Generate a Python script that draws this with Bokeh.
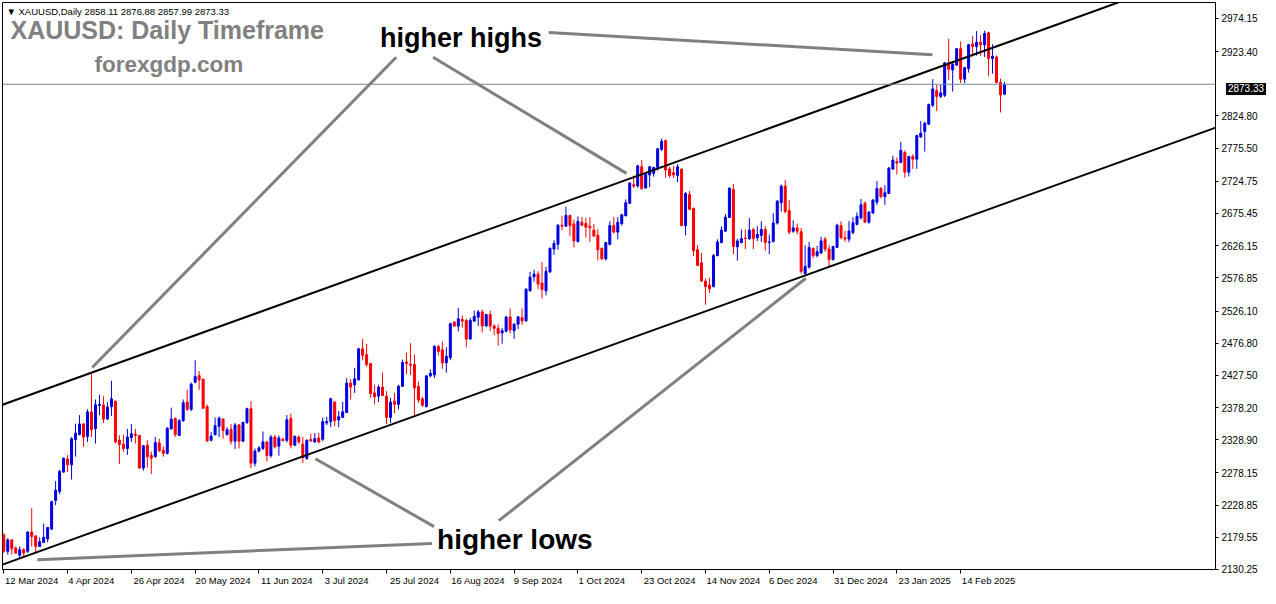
import numpy as np
from bokeh.plotting import figure
from bokeh.models import (Range1d, FixedTicker, NumeralTickFormatter, Span, Label,
                          ColumnDataSource, Div)
from bokeh.layouts import column
from bokeh.embed import file_html
from bokeh.resources import INLINE

# ---------------- data ----------------
opens = [2183.1, 2158.1, 2175.6, 2163.1, 2152.1, 2160.6, 2158.1, 2187.6, 2181.6, 2165.6,
         2171.6, 2177.1, 2192.1, 2236.0, 2249.6, 2279.6, 2299.6, 2290.6, 2329.0, 2337.1,
         2353.1, 2334.1, 2371.6, 2346.0, 2381.6, 2382.1, 2360.6, 2379.6, 2388.1, 2328.1,
         2322.1, 2315.6, 2332.1, 2337.6, 2335.6, 2285.6, 2320.6, 2304.6, 2303.1, 2324.1,
         2313.1, 2308.1, 2345.6, 2361.6, 2335.6, 2358.1, 2386.6, 2375.6, 2417.1, 2427.1,
         2421.6, 2379.6, 2328.1, 2336.6, 2349.6, 2360.6, 2336.6, 2344.6, 2326.6, 2351.6,
         2326.6, 2355.6, 2376.6, 2293.1, 2311.6, 2315.6, 2325.6, 2304.6, 2333.1, 2319.1,
         2329.6, 2328.1, 2361.6, 2320.6, 2333.1, 2322.0, 2300.6, 2329.1, 2325.6, 2331.6,
         2329.7, 2354.7, 2356.7, 2386.7, 2359.2, 2363.2, 2370.7, 2415.7, 2413.2, 2420.7,
         2468.2, 2459.2, 2445.7, 2400.7, 2395.7, 2409.7, 2395.7, 2363.2, 2388.2, 2383.2,
         2410.7, 2448.2, 2444.7, 2444.2, 2410.7, 2391.7, 2379.7, 2426.7, 2428.2, 2471.7,
         2466.7, 2446.7, 2454.7, 2509.2, 2503.0, 2513.2, 2511.7, 2483.2, 2510.7, 2516.7,
         2524.7, 2503.2, 2520.7, 2503.2, 2499.7, 2492.5, 2495.0, 2517.0, 2496.0, 2506.0,
         2516.0, 2511.0, 2557.0, 2578.5, 2582.5, 2569.0, 2557.0, 2586.0, 2621.0, 2628.5,
         2657.5, 2656.0, 2672.5, 2659.5, 2632.5, 2662.0, 2660.0, 2656.0, 2650.0, 2642.0,
         2622.0, 2606.0, 2628.0, 2657.0, 2647.0, 2660.0, 2672.0, 2691.0, 2719.5, 2717.5,
         2747.0, 2714.5, 2734.5, 2737.0, 2746.0, 2773.5, 2787.0, 2743.5, 2738.0, 2733.5,
         2743.4, 2656.9, 2704.4, 2683.4, 2619.9, 2599.9, 2571.9, 2565.9, 2563.4, 2610.9,
         2630.9, 2648.4, 2669.4, 2712.0, 2624.4, 2630.9, 2637.9, 2636.9, 2650.9, 2638.4,
         2641.9, 2650.9, 2630.9, 2633.0, 2660.9, 2691.9, 2717.4, 2680.0, 2648.4, 2653.4,
         2647.4, 2583.4, 2593.4, 2621.9, 2610.9, 2614.9, 2635.9, 2620.9, 2604.9, 2623.4,
         2656.9, 2638.4, 2636.2, 2646.2, 2658.7, 2668.7, 2691.2, 2662.2, 2676.2, 2692.7,
         2713.7, 2701.2, 2706.2, 2743.7, 2755.2, 2753.7, 2768.7, 2738.7, 2762.7, 2758.7,
         2792.7, 2801.2, 2812.2, 2841.2, 2863.7, 2854.7, 2856.5, 2906.2, 2895.2, 2902.7,
         2927.7, 2881.2, 2897.2, 2935.2, 2931.2, 2937.7, 2933.7, 2952.2, 2912.7, 2915.2,
         2876.2, 2858.11]
highs = [2185.6, 2178.1, 2176.6, 2165.6, 2165.6, 2163.1, 2188.6, 2224.1, 2183.1, 2179.6,
         2200.6, 2195.6, 2235.6, 2265.6, 2283.1, 2301.6, 2305.6, 2333.1, 2353.6, 2366.6,
         2354.6, 2375.6, 2429.6, 2390.6, 2398.1, 2395.6, 2386.6, 2419.1, 2389.1, 2335.6,
         2336.6, 2345.6, 2353.1, 2345.6, 2336.6, 2320.6, 2328.1, 2310.6, 2333.1, 2330.6,
         2319.1, 2348.1, 2378.1, 2363.1, 2360.6, 2390.6, 2405.6, 2416.6, 2450.6, 2434.1,
         2423.1, 2383.1, 2340.6, 2363.1, 2364.6, 2361.6, 2348.1, 2353.1, 2354.6, 2353.1,
         2356.6, 2378.1, 2388.1, 2315.6, 2319.1, 2341.6, 2326.6, 2336.6, 2336.6, 2335.6,
         2331.6, 2366.6, 2369.1, 2335.6, 2335.6, 2333.1, 2329.6, 2338.1, 2339.1, 2339.6,
         2363.2, 2364.2, 2393.2, 2388.2, 2373.2, 2386.7, 2423.2, 2421.7, 2439.2, 2469.7,
         2483.2, 2475.7, 2446.7, 2413.2, 2413.2, 2431.7, 2403.2, 2393.2, 2400.7, 2413.2,
         2451.7, 2462.2, 2476.7, 2459.7, 2418.2, 2394.7, 2428.2, 2436.7, 2473.2, 2474.2,
         2479.7, 2470.7, 2508.2, 2510.7, 2530.7, 2519.2, 2514.2, 2515.7, 2526.7, 2527.7,
         2528.2, 2521.7, 2526.7, 2505.7, 2505.7, 2500.0, 2518.5, 2530.0, 2507.0, 2518.5,
         2530.0, 2561.0, 2586.0, 2589.5, 2587.0, 2601.0, 2593.5, 2623.5, 2634.5, 2659.5,
         2672.0, 2686.0, 2673.5, 2666.0, 2671.0, 2670.0, 2668.5, 2670.0, 2659.5, 2651.0,
         2623.5, 2632.0, 2663.5, 2670.0, 2670.0, 2675.0, 2697.0, 2723.5, 2733.5, 2750.0,
         2757.5, 2737.0, 2748.5, 2747.0, 2776.0, 2790.0, 2788.5, 2747.0, 2748.5, 2751.0,
         2744.4, 2708.4, 2709.9, 2684.4, 2626.9, 2614.9, 2575.9, 2576.9, 2613.4, 2635.9,
         2655.9, 2674.9, 2714.9, 2720.9, 2636.9, 2650.9, 2650.9, 2668.4, 2653.4, 2655.9,
         2663.4, 2655.9, 2643.4, 2675.9, 2695.9, 2719.9, 2726.9, 2695.9, 2664.9, 2659.9,
         2653.4, 2626.9, 2631.9, 2623.4, 2625.9, 2639.9, 2639.4, 2626.9, 2625.9, 2659.9,
         2663.4, 2649.0, 2663.7, 2669.7, 2677.2, 2697.7, 2693.7, 2678.7, 2697.2, 2725.2,
         2716.2, 2718.7, 2746.2, 2763.7, 2761.2, 2785.2, 2772.2, 2763.7, 2766.2, 2796.2,
         2817.2, 2816.2, 2843.7, 2881.2, 2872.2, 2872.2, 2907.2, 2942.7, 2908.7, 2928.7,
         2938.7, 2900.2, 2935.2, 2947.2, 2954.7, 2948.7, 2955.2, 2953.7, 2934.7, 2917.2,
         2882.2, 2876.88]
lows = [2155.6, 2153.1, 2153.1, 2154.1, 2146.6, 2148.1, 2155.6, 2165.6, 2157.1, 2164.6,
        2170.6, 2172.1, 2190.6, 2228.6, 2245.6, 2278.1, 2279.6, 2268.1, 2303.1, 2335.6,
        2318.1, 2325.6, 2333.1, 2323.1, 2366.6, 2354.6, 2359.6, 2365.6, 2323.1, 2291.6,
        2310.6, 2305.6, 2325.6, 2323.1, 2284.6, 2281.6, 2286.6, 2276.6, 2301.6, 2310.6,
        2303.1, 2306.6, 2344.6, 2333.1, 2334.6, 2356.6, 2373.1, 2373.1, 2415.6, 2405.6,
        2376.6, 2325.6, 2326.6, 2335.6, 2333.1, 2330.6, 2335.6, 2321.6, 2314.6, 2315.6,
        2325.6, 2353.1, 2285.6, 2288.1, 2309.6, 2313.1, 2295.6, 2301.6, 2315.6, 2304.6,
        2326.6, 2324.6, 2315.6, 2319.1, 2322.6, 2293.1, 2298.1, 2325.6, 2324.6, 2323.1,
        2326.7, 2351.7, 2348.2, 2349.7, 2348.2, 2362.2, 2369.7, 2390.7, 2400.7, 2419.7,
        2450.7, 2440.7, 2393.2, 2383.2, 2386.7, 2395.7, 2353.2, 2354.7, 2369.7, 2375.7,
        2409.7, 2429.7, 2428.2, 2363.2, 2385.7, 2379.7, 2378.7, 2424.7, 2423.2, 2458.2,
        2437.7, 2431.7, 2450.7, 2501.7, 2494.7, 2500.7, 2470.7, 2482.2, 2509.7, 2503.2,
        2493.2, 2502.2, 2495.7, 2489.2, 2473.2, 2476.0, 2493.5, 2492.0, 2483.5, 2498.5,
        2505.0, 2510.0, 2556.0, 2571.0, 2560.0, 2545.0, 2550.0, 2584.5, 2612.5, 2620.0,
        2650.0, 2655.0, 2641.0, 2623.5, 2631.0, 2656.0, 2638.5, 2632.0, 2639.5, 2603.5,
        2604.5, 2603.5, 2627.0, 2645.0, 2636.0, 2657.0, 2671.0, 2690.0, 2714.5, 2715.0,
        2712.0, 2713.5, 2716.0, 2732.0, 2741.0, 2771.0, 2730.0, 2730.0, 2730.0, 2723.5,
        2655.9, 2641.9, 2680.9, 2609.9, 2594.9, 2570.9, 2535.9, 2553.4, 2562.4, 2609.9,
        2629.9, 2647.4, 2668.4, 2613.4, 2603.4, 2629.9, 2620.9, 2634.9, 2620.9, 2633.4,
        2631.9, 2618.4, 2613.4, 2630.9, 2658.4, 2678.4, 2675.9, 2643.4, 2645.9, 2643.4,
        2583.4, 2582.4, 2590.9, 2606.9, 2608.4, 2613.4, 2616.9, 2594.4, 2603.4, 2622.4,
        2635.9, 2632.0, 2631.2, 2643.7, 2657.2, 2666.2, 2661.2, 2659.7, 2675.2, 2688.7,
        2698.7, 2688.7, 2705.2, 2742.2, 2735.2, 2752.2, 2730.2, 2732.2, 2743.7, 2743.7,
        2791.2, 2770.2, 2811.2, 2838.7, 2832.2, 2852.2, 2853.7, 2880.2, 2862.2, 2901.2,
        2875.2, 2875.2, 2891.2, 2916.2, 2917.2, 2917.2, 2915.2, 2886.2, 2889.7, 2874.7,
        2830.2, 2857.99]
closes = [2158.1, 2175.6, 2162.1, 2155.6, 2160.6, 2155.6, 2187.6, 2180.6, 2165.6, 2172.6,
          2179.6, 2194.6, 2234.1, 2251.6, 2280.6, 2300.6, 2290.6, 2330.6, 2339.1, 2353.1,
          2333.1, 2371.6, 2344.1, 2382.6, 2383.1, 2360.6, 2379.1, 2391.6, 2325.6, 2321.6,
          2315.6, 2333.1, 2338.1, 2335.6, 2285.6, 2319.6, 2303.1, 2300.6, 2324.6, 2312.1,
          2308.1, 2346.6, 2360.6, 2337.0, 2358.1, 2385.6, 2375.6, 2414.1, 2425.6, 2420.6,
          2377.1, 2327.1, 2334.6, 2350.6, 2362.1, 2343.1, 2344.1, 2326.6, 2351.6, 2326.6,
          2355.6, 2376.6, 2293.1, 2311.6, 2316.6, 2325.6, 2304.6, 2333.1, 2318.1, 2331.6,
          2327.6, 2359.6, 2320.6, 2334.1, 2325.6, 2301.6, 2328.1, 2327.1, 2330.6, 2325.6,
          2356.7, 2356.7, 2391.7, 2358.2, 2364.2, 2371.7, 2415.7, 2409.7, 2422.2, 2468.2,
          2458.2, 2444.2, 2399.7, 2394.7, 2409.7, 2396.7, 2363.2, 2386.7, 2383.2, 2410.7,
          2447.2, 2445.7, 2443.2, 2408.2, 2389.7, 2381.7, 2426.7, 2430.7, 2472.2, 2464.2,
          2446.7, 2456.7, 2506.7, 2503.2, 2514.2, 2510.7, 2483.2, 2511.7, 2517.7, 2524.7,
          2503.2, 2520.7, 2503.2, 2499.7, 2491.7, 2496.0, 2517.0, 2497.0, 2506.0, 2517.0,
          2511.0, 2559.5, 2578.0, 2582.5, 2567.5, 2559.0, 2587.0, 2622.0, 2629.5, 2657.5,
          2656.0, 2672.5, 2657.0, 2633.5, 2663.5, 2657.5, 2654.5, 2653.5, 2641.0, 2620.0,
          2606.0, 2631.0, 2657.0, 2647.0, 2662.0, 2673.5, 2692.0, 2722.0, 2717.5, 2748.5,
          2713.5, 2736.0, 2747.0, 2746.0, 2774.5, 2786.0, 2742.0, 2733.5, 2734.5, 2747.0,
          2656.9, 2705.9, 2681.9, 2618.4, 2595.9, 2571.9, 2563.4, 2559.9, 2610.9, 2631.9,
          2649.9, 2669.9, 2714.4, 2624.9, 2633.4, 2636.9, 2636.9, 2649.9, 2636.9, 2643.4,
          2650.9, 2630.9, 2631.9, 2660.9, 2694.4, 2717.4, 2678.4, 2646.9, 2653.4, 2648.4,
          2586.9, 2594.4, 2623.4, 2610.9, 2616.9, 2633.4, 2620.9, 2604.9, 2624.9, 2657.4,
          2638.4, 2636.2, 2648.7, 2661.2, 2671.2, 2688.7, 2662.2, 2677.7, 2696.2, 2713.7,
          2701.2, 2707.2, 2745.2, 2757.2, 2752.7, 2772.2, 2738.7, 2762.7, 2758.7, 2794.7,
          2798.7, 2813.7, 2842.2, 2866.2, 2854.7, 2860.2, 2906.2, 2896.2, 2903.7, 2927.7,
          2881.2, 2898.7, 2934.0, 2931.2, 2937.7, 2933.7, 2951.2, 2912.7, 2916.2, 2876.2,
          2857.2, 2873.33]

date_labels = ["12 Mar 2024", "4 Apr 2024", "26 Apr 2024", "20 May 2024", "11 Jun 2024",
               "3 Jul 2024", "25 Jul 2024", "16 Aug 2024", "9 Sep 2024", "1 Oct 2024",
               "23 Oct 2024", "14 Nov 2024", "6 Dec 2024", "31 Dec 2024", "23 Jan 2025",
               "14 Feb 2025"]
label_bars = [0, 16, 32, 48, 64, 80, 96, 112, 128, 144, 160, 176, 192, 208, 224, 240]
price_ticks = [2130.25, 2179.55, 2228.85, 2278.15, 2328.90, 2378.20, 2427.50, 2476.80,
               2526.10, 2576.85, 2626.15, 2675.45, 2724.75, 2775.50, 2824.80, 2923.40,
               2974.15]
last_price = 2873.33
header_text = "\u25BC XAUUSD,Daily  2858.11 2876.88 2857.99 2873.33"

# channel lines (bar index, price)
upper_channel_x = [-0.33, 306.0]
upper_channel_y = [2382.5, 3056.9]
lower_channel_x = [-0.33, 306.2]
lower_channel_y = [2137.8, 2811.9]

# ---------------- layout ----------------
W, H = 1260, 588
LEFT, TOP = 2, 2
FRAME_W, FRAME_H = 1217, 569
PX_PER_BAR = 4.0
X0 = (LEFT - 3.3) / PX_PER_BAR
X1 = X0 + FRAME_W / PX_PER_BAR
PX_PER_USD = 1.52604
Y1 = 2974.15 + (18 - TOP) * PX_PER_USD
Y0 = Y1 - FRAME_H * PX_PER_USD

BLUE = "#0000E0"
RED = "#FF0000"
GRAY = "#808080"
FONT = "Liberation Sans"

p = figure(width=W, height=H, output_backend="svg", toolbar_location=None,
           x_range=Range1d(X0, X1), y_range=Range1d(Y0, Y1),
           y_axis_location="right", min_border_left=LEFT, min_border_top=TOP,
           min_border_right=W - FRAME_W - LEFT, min_border_bottom=H - FRAME_H - TOP)
p.grid.visible = False
p.outline_line_color = "black"
p.outline_line_width = 1
p.background_fill_color = "white"
p.border_fill_color = "white"

# y axis
p.yaxis.ticker = FixedTicker(ticks=price_ticks, minor_ticks=[])
p.yaxis.formatter = NumeralTickFormatter(format="0.00")
p.yaxis.major_label_text_font = FONT
p.yaxis.major_label_text_font_size = "10px"
p.yaxis.major_label_text_color = "black"
p.yaxis.major_tick_in = 0
p.yaxis.major_tick_out = 3
p.yaxis.minor_tick_line_color = None
p.yaxis.major_label_standoff = 3
p.yaxis.axis_line_color = "black"

# x axis: tick marks at label bars, text starting just right of them
centers = [b + int(round((len(s) * 4.8 / 2 + 2) / PX_PER_BAR)) for b, s in zip(label_bars, date_labels)]
p.xaxis.ticker = FixedTicker(ticks=centers, minor_ticks=label_bars)
p.xaxis.major_label_overrides = {c: s for c, s in zip(centers, date_labels)}
p.xaxis.major_tick_line_color = None
p.xaxis.major_tick_in = 0
p.xaxis.major_tick_out = 3
p.xaxis.minor_tick_in = 0
p.xaxis.minor_tick_out = 4
p.xaxis.minor_tick_line_color = "black"
p.xaxis.major_label_standoff = 1
p.xaxis.major_label_text_font = FONT
p.xaxis.major_label_text_font_size = "9.5px"
p.xaxis.major_label_text_color = "black"
p.xaxis.axis_line_color = "black"

# candles
o = np.array(opens)
c = np.array(closes)
hi = np.array(highs)
lo = np.array(lows)
idx = np.arange(len(o))
for mask, col in ((c >= o, BLUE), (c < o, RED)):
    src = ColumnDataSource(dict(x=idx[mask], top=np.maximum(o, c)[mask],
                                bottom=np.minimum(o, c)[mask], high=hi[mask], low=lo[mask]))
    p.segment(x0="x", y0="high", x1="x", y1="low", source=src, line_color=col, line_width=1)
    p.vbar(x="x", top="top", bottom="bottom", width=0.5, source=src,
           fill_color=col, line_color=col, line_width=1)

# current price line
p.add_layout(Span(location=last_price, dimension="width", line_color="#778899", line_width=1))

# channel lines
p.line(upper_channel_x, upper_channel_y, line_color="black", line_width=2)
p.line(lower_channel_x, lower_channel_y, line_color="black", line_width=2)

# helpers to place annotations at pixel positions of the reference
def cx(xpix):            # reference pixel x -> bar index
    return (xpix - 3.3) / PX_PER_BAR

def cy(ypix):            # reference pixel y -> price on the reference's candle scale
    return 2974.15 - (ypix - 18) * 1.5016

def ty(ypix):            # reference pixel y -> price at the same pixel row here
    return Y1 - (ypix - TOP) * PX_PER_USD

# grey annotation arrows: (end near text, end at the chart feature)
arrows = [((397, 57), (92, 374)), ((434, 57), (628, 176)), ((550, 32), (935, 55)),
          ((435, 528), (316, 467)), ((500, 522), (808, 283)), ((433, 545), (37, 570))]
for (xa, ya), (xb, yb) in arrows:
    p.line([cx(xa), cx(xb)], [ty(ya), cy(yb)], line_color=GRAY, line_width=3)

# texts
p.add_layout(Label(x=cx(6), y=ty(11), text=header_text, text_color="black",
                   text_font=FONT, text_font_size="9.5px", text_baseline="middle",
                   text_align="left"))
p.add_layout(Label(x=cx(10), y=ty(30), text="XAUUSD: Daily Timeframe", text_color=GRAY,
                   text_font=FONT, text_font_size="25px", text_font_style="bold",
                   text_baseline="middle", text_align="left"))
p.add_layout(Label(x=cx(169), y=ty(64), text="forexgdp.com", text_color=GRAY,
                   text_font=FONT, text_font_size="22.5px", text_font_style="bold",
                   text_baseline="middle", text_align="center"))
p.add_layout(Label(x=cx(462), y=ty(38), text="higher highs", text_color="black",
                   text_font=FONT, text_font_size="27px", text_font_style="bold",
                   text_baseline="middle", text_align="center"))
p.add_layout(Label(x=cx(516), y=ty(541), text="higher lows", text_color="black",
                   text_font=FONT, text_font_size="28px", text_font_style="bold",
                   text_baseline="middle", text_align="center"))

# price tag on the price axis (a small HTML box laid over the axis)
tag_mid = TOP + (Y1 - last_price) / PX_PER_USD
tag = Div(text="2873.33", width=40, height=12,
          styles={"position": "absolute", "left": f"{LEFT + FRAME_W + 2}px",
                  "top": f"{tag_mid - 6:.0f}px", "background-color": "black",
                  "color": "white", "font-family": FONT, "font-size": "10px",
                  "line-height": "12px", "text-align": "center", "z-index": "10"})

page = column(p, tag, spacing=0)
open("out.html", "w").write(file_html(page, INLINE))
